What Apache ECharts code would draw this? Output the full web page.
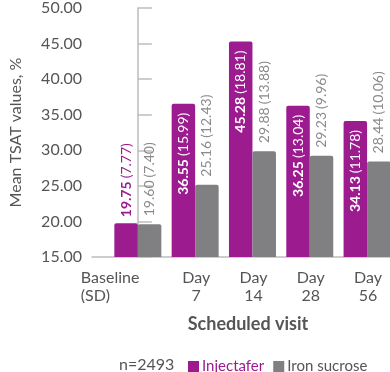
<!DOCTYPE html>
<html><head><meta charset="utf-8">
<script src="https://cdn.jsdelivr.net/npm/echarts@6/dist/echarts.min.js"></script>
<style>html,body{margin:0;padding:0;background:#fff}#c{width:390px;height:372px}</style>
</head><body><div id="c"></div>
<script>
const categories = ['Baseline\n(SD)', 'Day\n7', 'Day\n14', 'Day\n28', 'Day\n56'];
const injectaferMean = [19.75, 36.55, 45.28, 36.25, 34.13];
const injectaferSD = [7.77, 15.99, 18.81, 13.04, 11.78];
const ironMean = [19.60, 25.16, 29.88, 29.23, 28.44];
const ironSD = [7.40, 12.43, 13.88, 9.96, 10.06];
const yTicks = [15, 20, 25, 30, 35, 40, 45, 50];

const PURPLE = '#9c1c8f';
const GRAY = '#808083';
const FONT = 'Lato';
const TXT = '#555';

const chart = echarts.init(document.getElementById('c'));
const fs = 14;
chart.setOption({
  animation: false,
  textStyle: {fontFamily: FONT},
  title: {text: 'n=2493', left: 114, top: 352, textStyle: {fontFamily: FONT, fontWeight: 'normal', fontSize: 16, color: TXT}},
  legend: {
    left: 183, top: 354, itemWidth: 11, itemHeight: 11, itemGap: 9,
    icon: 'rect',
    data: [
      {name: 'Injectafer', textStyle: {color: PURPLE}},
      {name: 'Iron sucrose', textStyle: {color: TXT}}
    ],
    textStyle: {fontFamily: FONT, fontSize: 15, padding: [0, 0, 0, -2]}
  },
  grid: {left: 86, right: 0, top: 6, bottom: 115},
  xAxis: {
    type: 'value', min: -0.8, max: 4.4,
    axisLine: {show: true, lineStyle: {color: '#bdbdbd', width: 1.5}},
    axisTick: {show: false},
    splitLine: {show: false},
    axisLabel: {
      customValues: [0, 1, 2, 3, 4],
      hideOverlap: false,
      margin: 12,
      color: TXT, fontSize: 16, fontFamily: FONT, lineHeight: 18,
      formatter: function (v) {
        const i = Math.round(v);
        if (i === 0) return '{b|Baseline}\n{b|(SD)}';
        return '{d|' + categories[i].split('\n').join('}\n{d|') + '}';
      },
      rich: {
        b: {width: 64, align: 'left', padding: [0, 0, 0, -50], fontSize: 16, color: TXT, fontFamily: FONT, lineHeight: 18},
        d: {fontSize: 16, color: TXT, fontFamily: FONT, lineHeight: 18, padding: [0, 0, 0, 2]}
      }
    },
    name: 'Scheduled visit', nameLocation: 'middle', nameGap: 58,
    nameTextStyle: {fontFamily: FONT, fontSize: 18, fontWeight: 'bold', color: TXT, padding: [0, 0, 0, 14]}
  },
  yAxis: {
    type: 'value', min: 15, max: 50, interval: 5,
    axisLine: {show: true, lineStyle: {color: '#bdbdbd', width: 1.5}},
    axisTick: {show: true, inside: true, length: 14, lineStyle: {color: '#bdbdbd', width: 1.5}},
    splitLine: {show: false},
    axisLabel: {margin: 10, color: TXT, fontSize: 16, fontFamily: FONT, formatter: v => v.toFixed(2)},
    name: 'Mean TSAT values, %', nameLocation: 'middle', nameGap: 68,
    nameTextStyle: {fontFamily: FONT, fontSize: 16, color: TXT, padding: [0, 0, 0, 0]}
  },
  series: [
    {
      name: 'Injectafer', type: 'bar', barWidth: 23.5, barGap: '0%',
      itemStyle: {color: PURPLE, borderRadius: [2, 2, 0, 0]},
      data: injectaferMean.map((v, i) => {
        const d = {value: [i, v]};
        if (i === 0) {
          d.label = {position: 'top', align: 'left', distance: 6,
            rich: {b: {color: PURPLE, fontWeight: 'bold', fontSize: fs, fontFamily: FONT}, r: {color: PURPLE, fontSize: fs, fontFamily: FONT}}};
        }
        return d;
      }),
      label: {
        show: true, position: 'insideTop', rotate: 90, align: 'right', verticalAlign: 'middle', distance: 9,
        formatter: p => '{b|' + injectaferMean[p.dataIndex].toFixed(2) + '} {r|(' + injectaferSD[p.dataIndex].toFixed(2) + ')}',
        rich: {
          b: {color: '#fff', fontWeight: 'bold', fontSize: fs, fontFamily: FONT},
          r: {color: '#fff', fontSize: fs, fontFamily: FONT}
        }
      }
    },
    {
      name: 'Iron sucrose', type: 'bar', barWidth: 23.5, barGap: '0%',
      itemStyle: {color: GRAY, borderRadius: [2, 2, 0, 0]},
      data: ironMean.map((v, i) => [i, v]),
      label: {
        show: true, position: 'top', rotate: 90, align: 'left', verticalAlign: 'middle', distance: 8,
        formatter: p => '{b|' + ironMean[p.dataIndex].toFixed(2) + '} {r|(' + ironSD[p.dataIndex].toFixed(2) + ')}',
        rich: {
          b: {color: '#8a8a8d', fontSize: fs, fontFamily: FONT},
          r: {color: '#8a8a8d', fontSize: fs, fontFamily: FONT}
        }
      }
    }
  ]
});
</script></body></html>
